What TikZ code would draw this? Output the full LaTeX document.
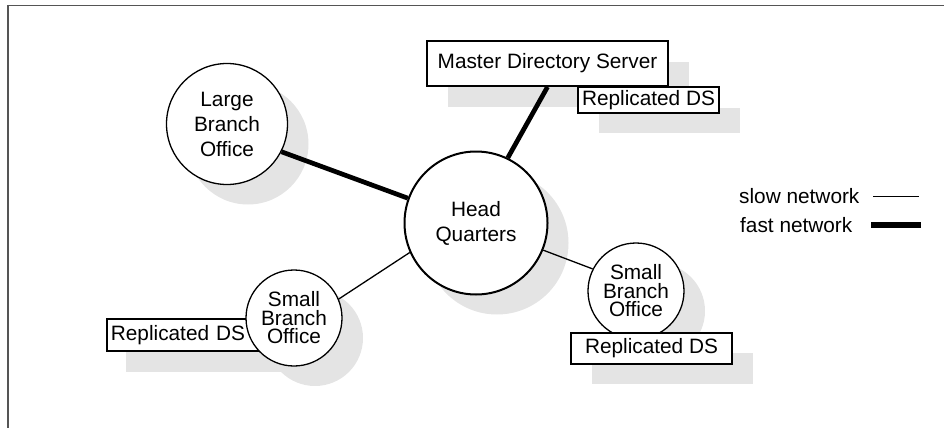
\documentclass[tikz,border=0pt]{standalone}
\usepackage{fontspec}
\setmainfont{Liberation Sans}
\definecolor{shadowgray}{RGB}{228,228,228}
\definecolor{framec}{RGB}{85,85,85}
\tikzset{
  site/.style={circle, draw, fill=white, line width=1.3pt, inner sep=0pt, align=center,
    font=\fontsize{20.8}{25}\selectfont},
  smallsite/.style={site, font=\fontsize{20.8}{18.5}\selectfont},
  serverbox/.style={draw, fill=white, line width=1.8pt, inner sep=0pt,
    font=\fontsize{20.8}{25}\selectfont},
  legendtext/.style={inner sep=0pt, anchor=west, font=\fontsize{20.8}{25}\selectfont},
  fastlink/.style={line width=4.7pt},
  slowlink/.style={line width=1.3pt},
  framestyle/.style={draw=framec, line width=1.8pt},
  dropshadow/.style={fill=shadowgray},
}
\begin{document}
\begin{tikzpicture}[x=1pt,y=-1pt]
\useasboundingbox (0,0) rectangle (944,428);
% frame
\draw[framestyle] (7,5.5) -- (944,5.5);
\draw[framestyle] (8,5) -- (8,428);
% shadows
\fill[dropshadow] (248,144) circle[radius=60.5];
\fill[dropshadow] (497,243) circle[radius=71.5];
\fill[dropshadow] (315,338) circle[radius=48];
\fill[dropshadow] (657,311) circle[radius=48];
\fill[dropshadow] (448,62) rectangle (689,107);
\fill[dropshadow] (599,108) rectangle (740,133);
\fill[dropshadow] (126,340) rectangle (285,372);
\fill[dropshadow] (592,353) rectangle (753,384);
% nodes
\node[site, minimum size=121pt] (large) at (227,124) {Large\\Branch\\Office};
\node[site, line width=2pt, minimum size=143pt] (hq) at (476,223) {Head\\Quarters};
\node[serverbox, minimum width=241pt, minimum height=45pt] (mds) at (547.5,63.5) {Master Directory Server};
\node[serverbox, minimum width=141pt, minimum height=26pt] (reptop) at (648.5,100) {Replicated DS};
\node[serverbox, anchor=west, inner xsep=4pt, text width=151pt, align=left, minimum height=32pt] (repl) at (106,335) {Replicated DS};
\node[smallsite, minimum size=96pt] (smalll) at (294,318) {Small\\Branch\\Office};
\node[smallsite, minimum size=96pt] (smallr) at (636,291) {Small\\Branch\\Office};
\node[serverbox, minimum width=161pt, minimum height=31pt] (repr) at (651.5,348.5) {Replicated DS};
% connectors
\draw[fastlink] (large.-27) -- (hq.160);
\draw[fastlink] (mds.south) -- (hq.64);
\draw[slowlink] (hq.204) -- (smalll.23);
\draw[slowlink] (hq.-22) -- (smallr.153);
% legend
\node[legendtext] (slow) at (739,196.5) {slow network};
\node[legendtext] (fast) at (740,225) {fast network};
\coordinate (slowa) at (873,196.5);
\coordinate (slowb) at (919,196.5);
\coordinate (fasta) at (871,225.3);
\coordinate (fastb) at (921,225.3);
\draw[slowlink] (slowa) -- (slowb);
\draw[line width=6pt] (fasta) -- (fastb);
\end{tikzpicture}
\end{document}
